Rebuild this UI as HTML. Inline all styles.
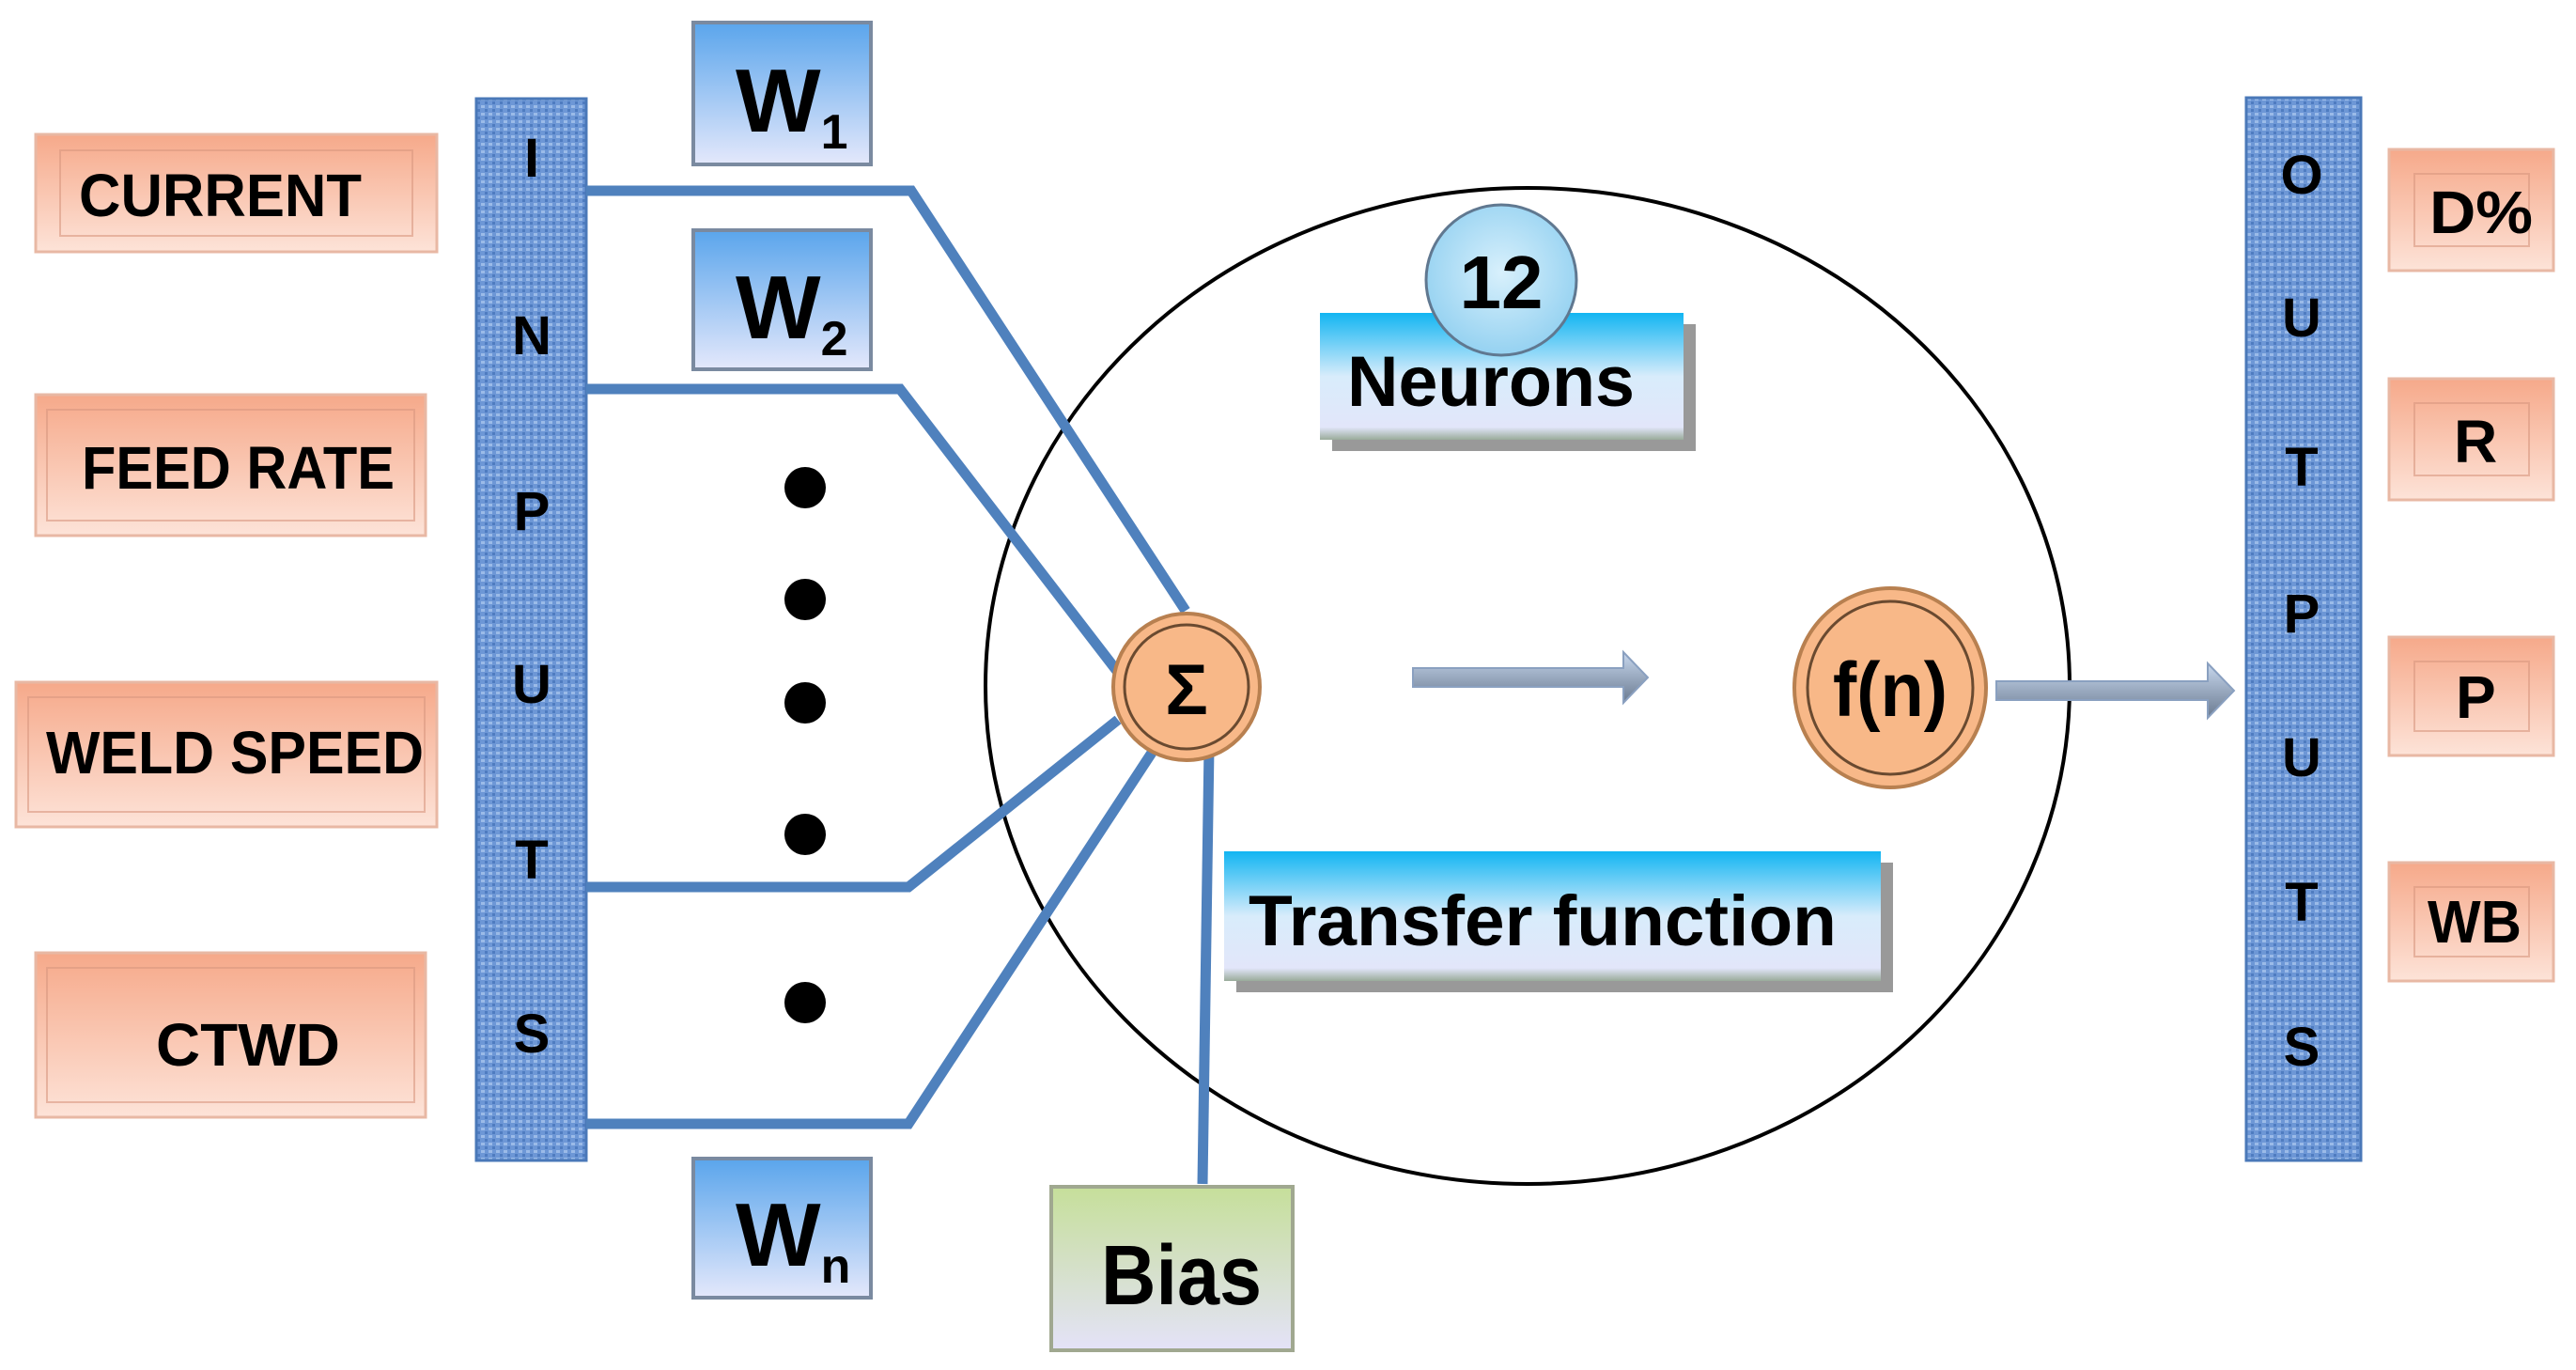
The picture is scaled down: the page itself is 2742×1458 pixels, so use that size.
<!DOCTYPE html>
<html><head><meta charset="utf-8"><style>
html,body{margin:0;padding:0;background:#fff;}
svg{display:block;font-family:"Liberation Sans",sans-serif;font-weight:bold;}
</style></head><body>
<svg width="2742" height="1458" viewBox="0 0 2742 1458" xmlns="http://www.w3.org/2000/svg">
<defs>
<linearGradient id="pk" x1="0" y1="0" x2="0" y2="1"><stop offset="0" stop-color="#f6a98a"/><stop offset="1" stop-color="#fde3d8"/></linearGradient>
<linearGradient id="bl" x1="0" y1="0" x2="0" y2="1"><stop offset="0" stop-color="#5aa5ec"/><stop offset="1" stop-color="#e4e8fb"/></linearGradient>
<linearGradient id="nb" x1="0" y1="0" x2="0" y2="1"><stop offset="0" stop-color="#12b5f2"/><stop offset="0.5" stop-color="#d8ecfb"/><stop offset="0.9" stop-color="#e2e6fa"/><stop offset="1" stop-color="#9aab9a"/></linearGradient>
<linearGradient id="gr" x1="0" y1="0" x2="0" y2="1"><stop offset="0" stop-color="#c6df9a"/><stop offset="1" stop-color="#e4e2f8"/></linearGradient>
<radialGradient id="ball" cx="0.5" cy="0.45" r="0.6"><stop offset="0" stop-color="#d8f0fc"/><stop offset="1" stop-color="#8fcff0"/></radialGradient>
<linearGradient id="ar" x1="0" y1="0" x2="0" y2="1"><stop offset="0" stop-color="#c8d8ee"/><stop offset="1" stop-color="#6a7a90"/></linearGradient>
<pattern id="tx" width="8" height="8" patternUnits="userSpaceOnUse"><rect width="8" height="8" fill="#6d97d6"/><rect x="0" y="0" width="4" height="3" fill="#9bbbe8"/><rect x="4" y="4" width="3" height="3" fill="#4f7cc0"/></pattern>
</defs>

<ellipse cx="1626" cy="730" rx="577" ry="530" fill="none" stroke="#000" stroke-width="4"/>

<rect x="507" y="105" width="117" height="1130" fill="url(#tx)" stroke="#4a78b8" stroke-width="3"/>
<rect x="2391" y="104" width="122" height="1131" fill="url(#tx)" stroke="#4a78b8" stroke-width="3"/>
<g font-size="58" text-anchor="middle" fill="#000">
<text x="566" y="188">I</text><text x="566" y="377">N</text><text x="566" y="564">P</text>
<text x="566" y="748">U</text><text x="566" y="935">T</text><text x="566" y="1120">S</text>
<text x="2450" y="206">O</text><text x="2450" y="358">U</text><text x="2450" y="517">T</text>
<text x="2450" y="673">P</text><text x="2450" y="826">U</text><text x="2450" y="980">T</text><text x="2450" y="1134">S</text>
</g>

<g stroke="#e8b8a4" stroke-width="3">
<rect x="38" y="143" width="427" height="125" fill="url(#pk)"/>
<rect x="38" y="420" width="415" height="150" fill="url(#pk)"/>
<rect x="17" y="726" width="448" height="154" fill="url(#pk)"/>
<rect x="38" y="1014" width="415" height="175" fill="url(#pk)"/>
<rect x="2543" y="159" width="175" height="129" fill="url(#pk)"/>
<rect x="2543" y="403" width="175" height="129" fill="url(#pk)"/>
<rect x="2543" y="678" width="175" height="126" fill="url(#pk)"/>
<rect x="2543" y="918" width="175" height="126" fill="url(#pk)"/>
</g>
<g fill="none" stroke="#d89880" stroke-width="2" opacity="0.6">
<rect x="64" y="160" width="375" height="91"/>
<rect x="50" y="436" width="391" height="118"/>
<rect x="30" y="742" width="422" height="122"/>
<rect x="50" y="1030" width="391" height="143"/>
<rect x="2570" y="185" width="122" height="77"/>
<rect x="2570" y="429" width="122" height="77"/>
<rect x="2570" y="704" width="122" height="74"/>
<rect x="2570" y="944" width="122" height="74"/>
</g>
<g font-size="64" fill="#000" lengthAdjust="spacingAndGlyphs">
<text x="84" y="230" textLength="301" lengthAdjust="spacingAndGlyphs">CURRENT</text>
<text x="87" y="520" textLength="333" lengthAdjust="spacingAndGlyphs">FEED RATE</text>
<text x="49" y="823" textLength="402" lengthAdjust="spacingAndGlyphs">WELD SPEED</text>
<text x="166" y="1134" textLength="196" lengthAdjust="spacingAndGlyphs">CTWD</text>
<text x="2586" y="248" textLength="110" lengthAdjust="spacingAndGlyphs">D%</text>
<text x="2612" y="492">R</text>
<text x="2614" y="764">P</text>
<text x="2584" y="1003" textLength="100" lengthAdjust="spacingAndGlyphs">WB</text>
</g>

<g stroke="#7a8aa0" stroke-width="4">
<rect x="738" y="24" width="189" height="151" fill="url(#bl)"/>
<rect x="738" y="245" width="189" height="148" fill="url(#bl)"/>
<rect x="738" y="1233" width="189" height="148" fill="url(#bl)"/>
</g>
<g fill="#000">
<text x="783" y="140" font-size="96">W<tspan font-size="52" dy="18">1</tspan></text>
<text x="783" y="360" font-size="96">W<tspan font-size="52" dy="18">2</tspan></text>
<text x="783" y="1347" font-size="96">W<tspan font-size="52" dy="18">n</tspan></text>
</g>

<g fill="#000">
<circle cx="857" cy="519" r="22"/><circle cx="857" cy="638" r="22"/><circle cx="857" cy="748" r="22"/>
<circle cx="857" cy="888" r="22"/><circle cx="857" cy="1067" r="22"/>
</g>

<g fill="none" stroke="#4f81bd" stroke-width="11" stroke-linejoin="miter">
<polyline points="624,203 970,203 1262,650"/>
<polyline points="624,414 958,414 1195,722"/>
<polyline points="624,944 967,944 1190,766"/>
<polyline points="624,1196 967,1196 1230,795"/>
<polyline points="1287,795 1280,1260"/>
</g>

<circle cx="1263" cy="731" r="78" fill="#f8b888" stroke="#b88050" stroke-width="4"/>
<circle cx="1263" cy="731" r="66" fill="none" stroke="#6a4a30" stroke-width="3"/>
<text x="1263" y="760" font-size="76" text-anchor="middle">Σ</text>
<ellipse cx="2012" cy="732" rx="102" ry="106" fill="#f8b888" stroke="#b88050" stroke-width="4"/>
<ellipse cx="2012" cy="732" rx="88" ry="92" fill="none" stroke="#6a4a30" stroke-width="3"/>
<text x="1951" y="762" font-size="82" textLength="122" lengthAdjust="spacingAndGlyphs">f(n)</text>

<polygon points="1504,711 1728,711 1728,694 1754,721 1728,748 1728,731 1504,731" fill="url(#ar)" stroke="#8aa0c0" stroke-width="2"/>
<polygon points="2125,725 2350,725 2350,706 2378,735 2350,764 2350,745 2125,745" fill="url(#ar)" stroke="#8aa0c0" stroke-width="2"/>

<rect x="1418" y="345" width="387" height="135" fill="#999"/>
<rect x="1405" y="333" width="387" height="135" fill="url(#nb)"/>
<text x="1434" y="432" font-size="76" textLength="306" lengthAdjust="spacingAndGlyphs">Neurons</text>
<circle cx="1598" cy="298" r="80" fill="url(#ball)" stroke="#607890" stroke-width="3"/>
<text x="1598" y="328" font-size="80" text-anchor="middle">12</text>

<rect x="1316" y="918" width="699" height="138" fill="#999"/>
<rect x="1303" y="906" width="699" height="138" fill="url(#nb)"/>
<text x="1329" y="1006" font-size="76" textLength="626" lengthAdjust="spacingAndGlyphs">Transfer function</text>

<rect x="1119" y="1263" width="257" height="174" fill="url(#gr)" stroke="#a0a890" stroke-width="4"/>
<text x="1172" y="1388" font-size="90" textLength="171" lengthAdjust="spacingAndGlyphs">Bias</text>
</svg>
</body></html>
